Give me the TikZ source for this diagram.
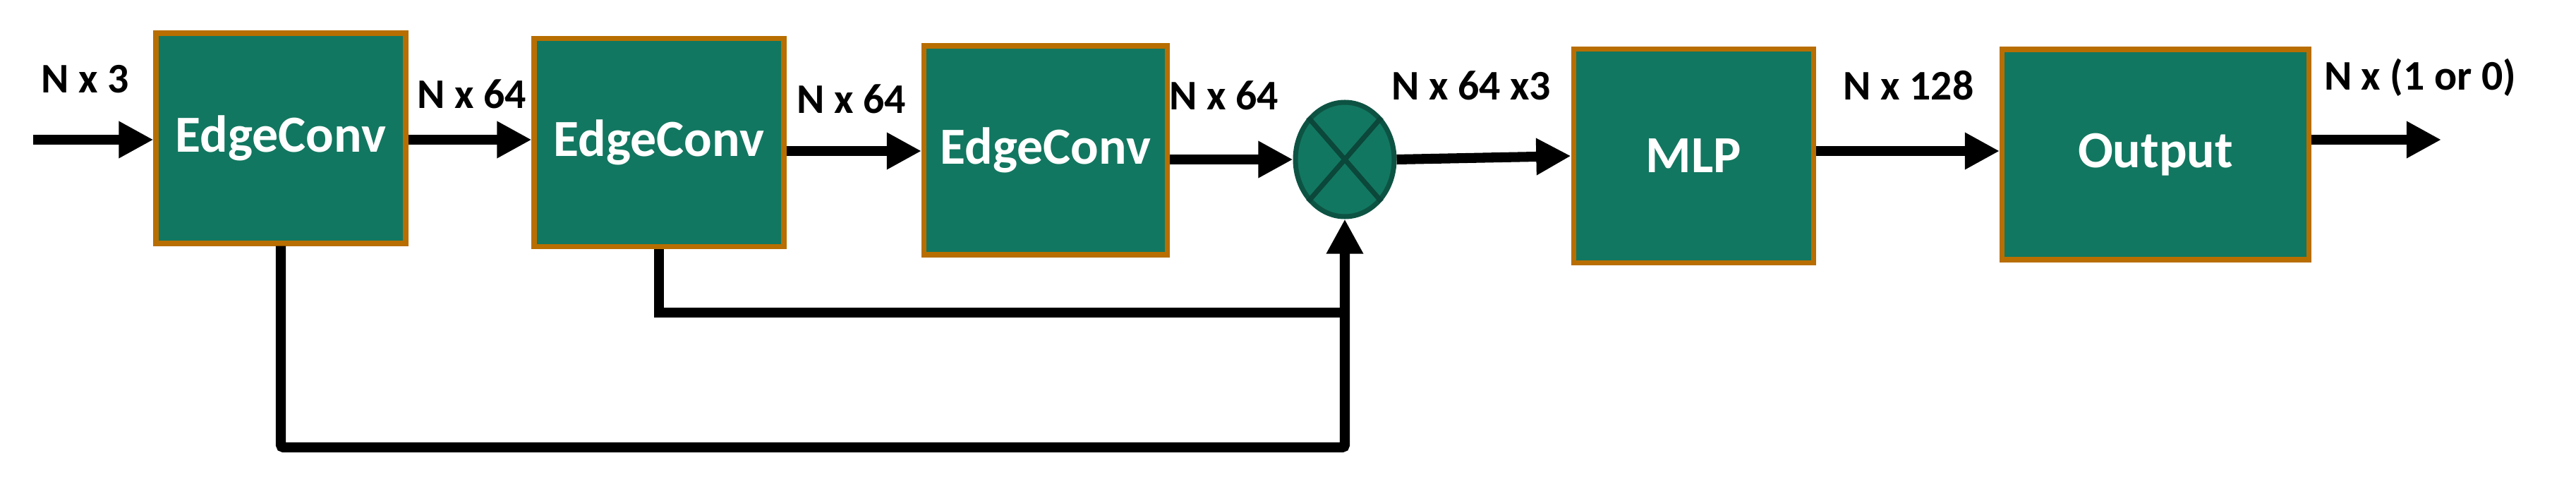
\documentclass[tikz,border=0pt]{standalone}
\usepackage{fontspec}
\setmainfont{Carlito}
\usetikzlibrary{arrows.meta,shapes.geometric}
\definecolor{boxgreen}{HTML}{127760}
\definecolor{boxedge}{HTML}{B86E00}
\tikzset{
	block/.style = {draw=boxedge, line width=2pt, fill=boxgreen, text=white,
		font=\fontsize{21}{25}\selectfont\bfseries, inner sep=0pt},
	lbl/.style = {font=\fontsize{17}{21}\selectfont\bfseries},
	conn/.style = {line width=4pt, -{Triangle[length=14pt,width=14pt]}},
	wire/.style = {line width=4pt}
}
\begin{document}
\begin{tikzpicture}
	\useasboundingbox (0,0) rectangle (36.51,-7.10);
	
	\node[block, minimum width=3.54cm, minimum height=2.98cm] (ec1) at (3.98,-1.96) {EdgeConv};
	\node[block, minimum width=3.54cm, minimum height=2.95cm] (ec2) at (9.34,-2.02) {EdgeConv};
	\node[block, minimum width=3.45cm, minimum height=2.96cm] (ec3) at (14.82,-2.13) {EdgeConv};
	\node[ellipse, draw=boxgreen!70!black, line width=2pt, fill=boxgreen,
		minimum width=1.40cm, minimum height=1.62cm] (mul) at (19.06,-2.26) {};
	\draw[boxgreen!60!black, line width=2pt] (mul.north west) -- (mul.south east);
	\draw[boxgreen!60!black, line width=2pt] (mul.north east) -- (mul.south west);
	\node[block, minimum width=3.40cm, minimum height=3.03cm] (mlp) at (24.00,-2.21) {MLP};
	\node[block, minimum width=4.35cm, minimum height=2.98cm] (out) at (30.55,-2.19) {Output};
	
	\coordinate (in) at (0.47,-1.98);
	\coordinate (end) at (34.60,-1.98);
	
	\draw[conn] (in) -- (ec1.west |- in);
	\draw[conn] (ec1.east |- 0,-1.98) -- (ec2.west |- 0,-1.98);
	\draw[conn] (ec2.east |- 0,-2.14) -- (ec3.west |- 0,-2.14);
	\draw[conn] (ec3.east |- mul) -- (mul.west);
	\draw[conn] (mul.east) -- (mlp.west);
	\draw[conn] (mlp.east |- 0,-2.14) -- (out.west |- 0,-2.14);
	\draw[conn] (out.east |- end) -- (end);
	
	% skip connections
	\draw[wire] (ec2.south) |- (19.09,-4.43);
	\draw[conn, rounded corners=1pt] (ec1.south) |- (19.06,-6.34) -- (mul.south);
	
	\node[lbl] at (1.21,-1.12) {N x 3};
	\node[lbl] at (6.69,-1.33) {N x 64};
	\node[lbl] at (12.07,-1.40) {N x 64};
	\node[lbl] at (17.35,-1.35) {N x 64};
	\node[lbl] at (20.85,-1.21) {N x 64 x3};
	\node[lbl] at (27.05,-1.21) {N x 128};
	\node[lbl] at (34.30,-1.10) {N x (1 or 0)};
\end{tikzpicture}
\end{document}
